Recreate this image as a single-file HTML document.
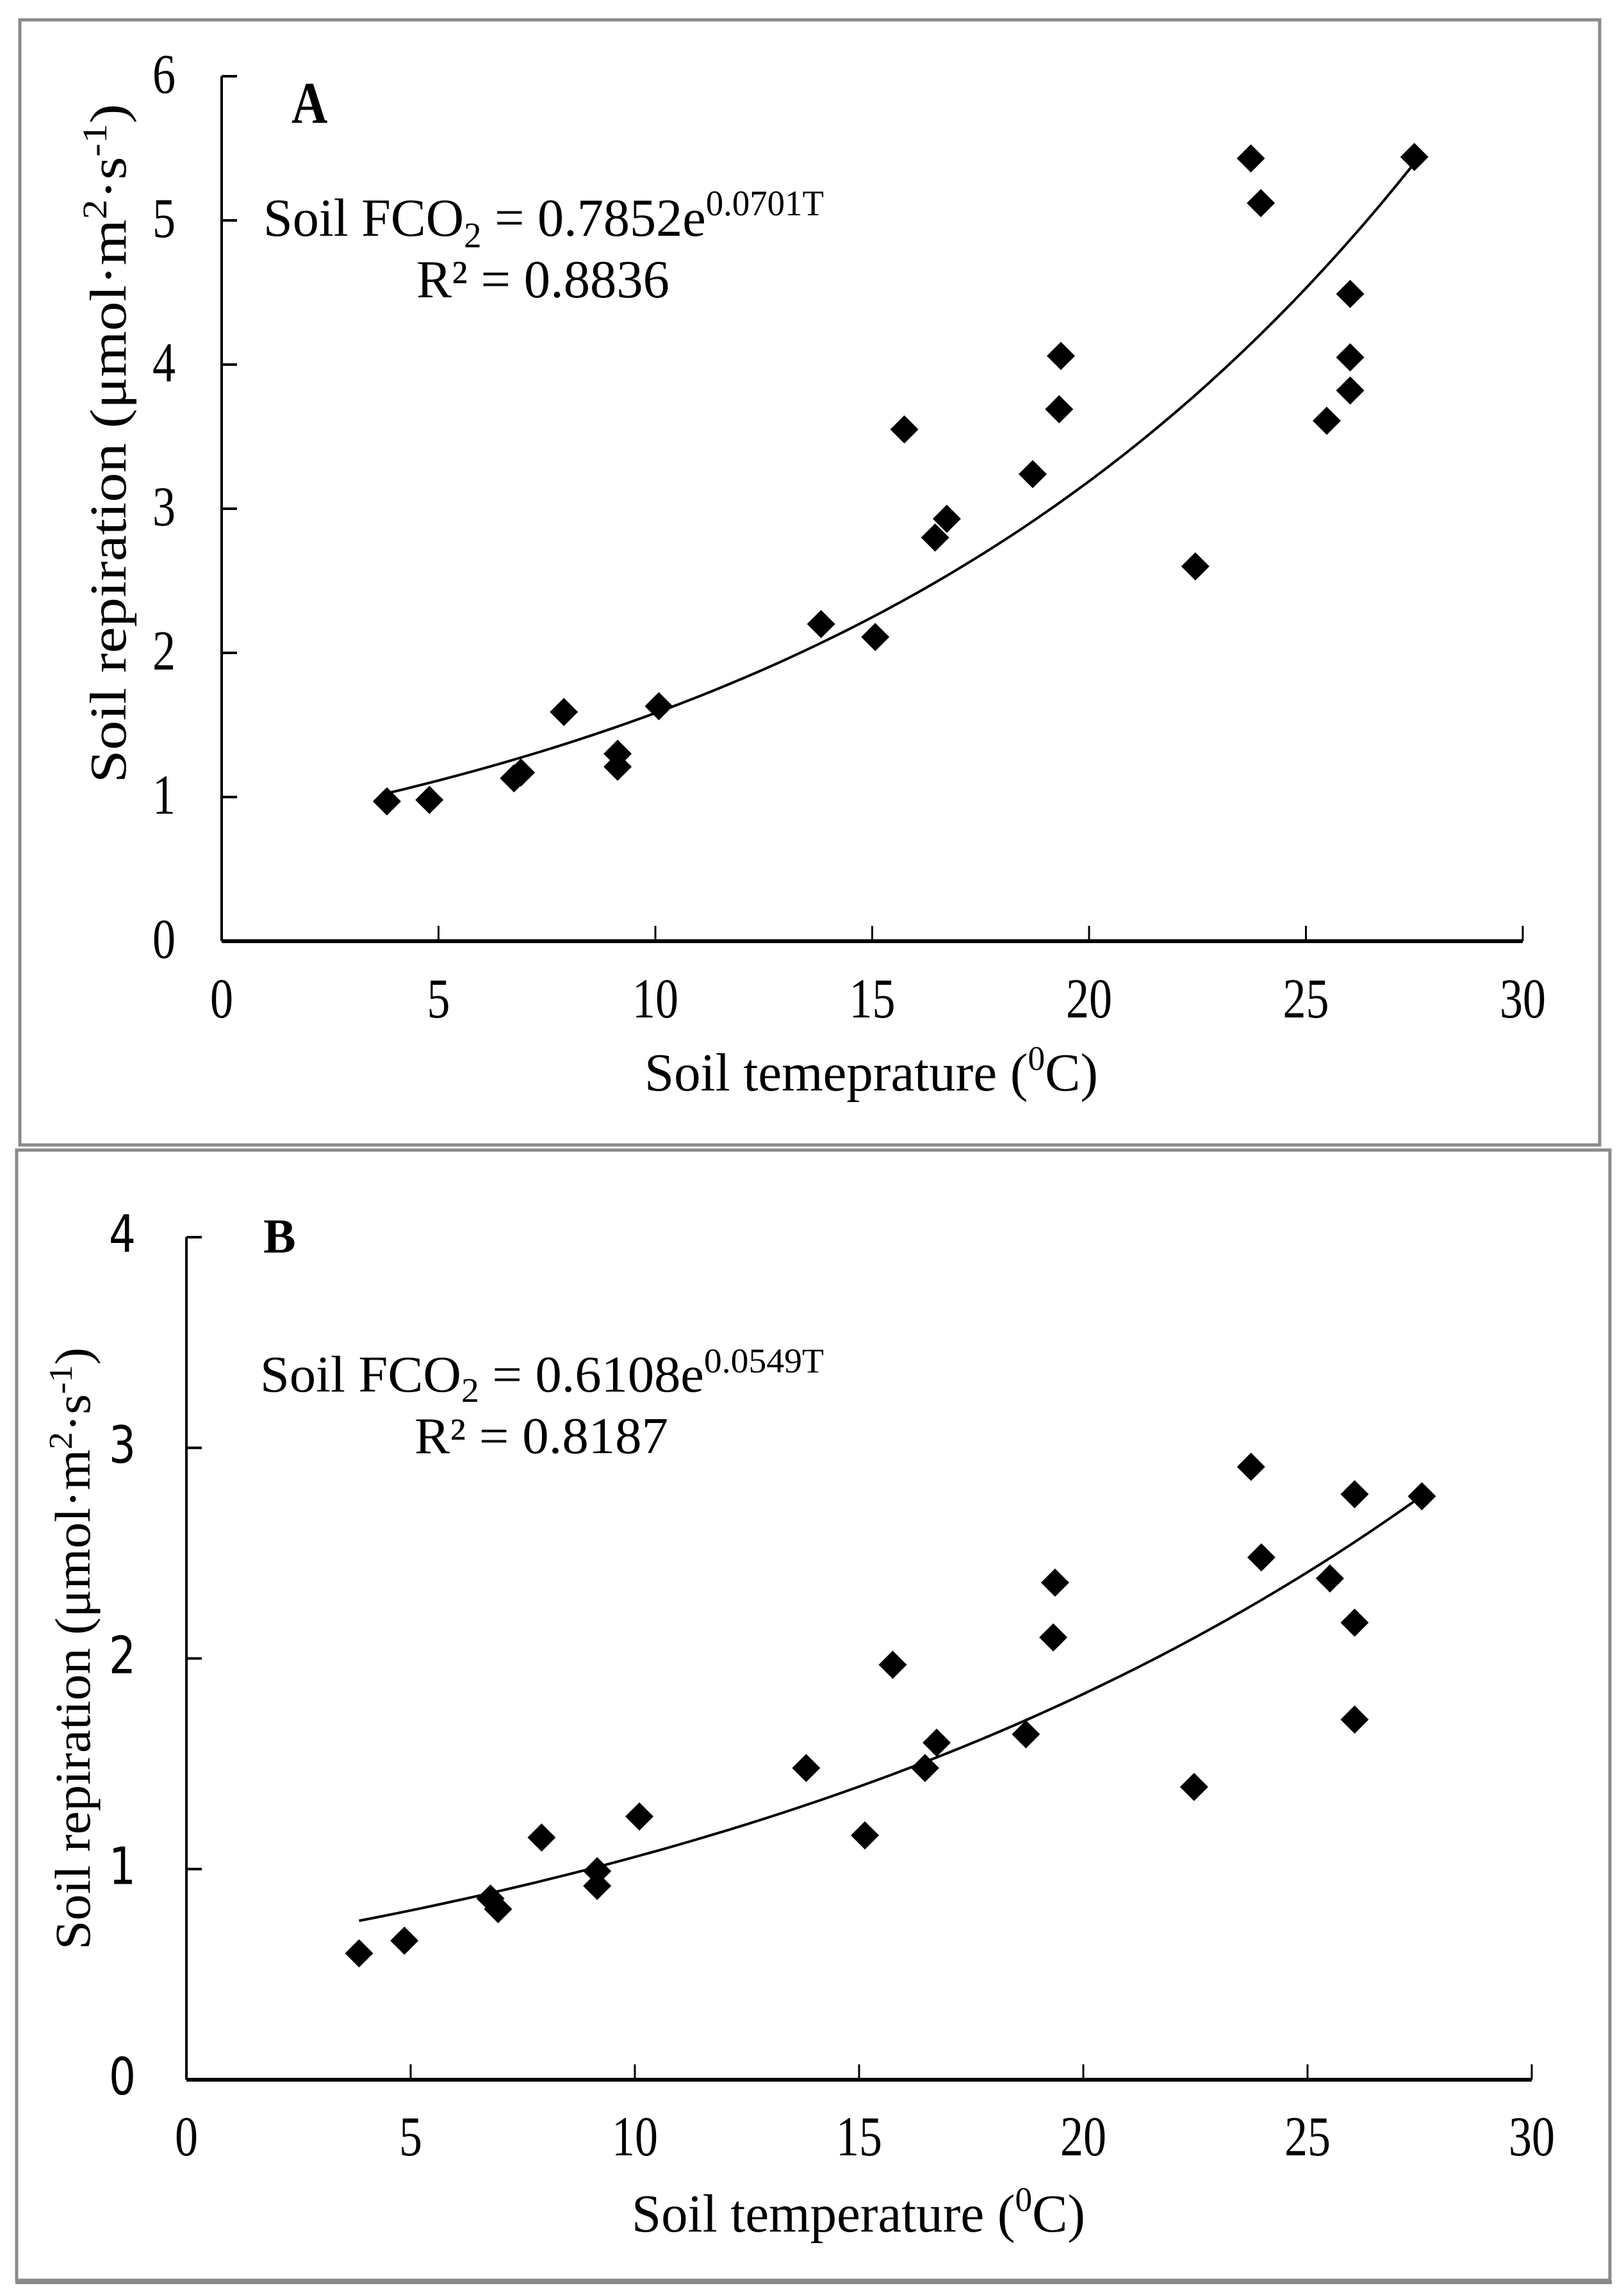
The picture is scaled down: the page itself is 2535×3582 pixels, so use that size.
<!DOCTYPE html>
<html><head><meta charset="utf-8"><style>
html,body{margin:0;padding:0;background:#fff;}
svg{display:block;}
text{font-family:"Liberation Serif",serif;fill:#000;}
.sans{font-family:"DejaVu Sans","Liberation Sans",sans-serif;}
</style></head><body>
<svg id="chart" width="2535" height="3582" viewBox="0 0 2535 3582" xmlns="http://www.w3.org/2000/svg">
<rect x="0" y="0" width="2535" height="3582" fill="#fff"/>
<rect x="31" y="31" width="2466" height="1756" fill="none" stroke="#8a8a8a" stroke-width="5"/>
<rect x="26" y="1795" width="2487" height="1764" fill="none" stroke="#8a8a8a" stroke-width="5"/>
<line x1="24" y1="3562" x2="2516" y2="3562" stroke="#8a8a8a" stroke-width="6"/>
<g id="pa"></g>
<g id="pb"></g>
</svg>
<script>
const xTicks = [0,5,10,15,20,25,30];
const yTicksA = [0,1,2,3,4,5,6];
const yTicksB = [0,1,2,3,4];
const tempA = [3.81,4.79,6.74,6.9,7.89,9.13,9.13,10.08,13.82,15.07,15.74,16.45,16.72,18.7,19.35,19.31,22.45,23.73,23.96,25.48,26.02,26.02,26.02,27.5];
const respA = [0.97,0.98,1.13,1.17,1.59,1.30,1.21,1.63,2.20,2.11,3.55,2.80,2.93,3.24,4.06,3.69,2.60,5.43,5.12,3.61,4.49,4.05,3.82,5.44];
const tempB = [3.85,4.86,6.78,6.95,7.92,9.16,9.16,10.1,13.82,15.13,15.75,16.47,16.73,18.72,19.37,19.33,22.47,23.74,23.97,25.5,26.05,26.05,26.05,27.55];
const respB = [0.60,0.66,0.86,0.81,1.15,0.99,0.92,1.25,1.48,1.16,1.97,1.48,1.60,1.64,2.36,2.10,1.39,2.91,2.48,2.38,2.78,2.17,1.71,2.77];
const fitA = [0.7852,0.0701];
const fitB = [0.6108,0.0549];
const NS='http://www.w3.org/2000/svg';
function mk(parent,tag,attrs){const e=document.createElementNS(NS,tag);for(const k in attrs)e.setAttribute(k,attrs[k]);parent.appendChild(e);return e;}

function panel(g,cfg){
  const sx=v=>cfg.x0+(v-0)/30*(cfg.x1-cfg.x0);
  const sy=v=>cfg.y0-(v/cfg.ymax)*(cfg.y0-cfg.y1);
  const ya=mk(g,'line',{x1:cfg.x0,y1:cfg.y1,x2:cfg.x0,y2:cfg.y0,stroke:'#000','stroke-width':4});
  
  
  const xa=mk(g,'line',{x1:cfg.x0,y1:cfg.y0,x2:cfg.x1,y2:cfg.y0,stroke:'#000','stroke-width':6});
  
  
  cfg.yTicks.forEach(v=>{
    const y=sy(v);
    if(v>0){const t=mk(g,'line',{x1:cfg.x0,y1:y,x2:cfg.x0+24,y2:y,stroke:'#000','stroke-width':4});
      
      }
    const lab=mk(g,'text',{x:0,y:0,'text-anchor':'end','font-size':cfg.yFont,transform:`translate(${cfg.yLabX},${y+cfg.yLabDy}) scale(1,${cfg.sy})`});
    if(cfg.sans)lab.setAttribute('class','sans');
    lab.textContent=v;
    
    
  });
  xTicks.forEach(v=>{
    const x=sx(v);
    if(v>0){const t=mk(g,'line',{x1:x,y1:cfg.y0,x2:x,y2:cfg.y0-24,stroke:'#000','stroke-width':3});
      
      }
    const lab=mk(g,'text',{x:0,y:0,'text-anchor':'middle','font-size':cfg.xFont,transform:`translate(${x},${cfg.xLabY}) scale(1,${cfg.sy})`});
    lab.textContent=v;
    
    
  });
  const tmin=Math.min(...cfg.tx), tmax=Math.max(...cfg.tx);
  let d='';
  for(let i=0;i<=60;i++){const t=tmin+(tmax-tmin)*i/60;const r=cfg.fit[0]*Math.exp(cfg.fit[1]*t);d+=(i?'L':'M')+sx(t).toFixed(1)+','+sy(r).toFixed(1);}
  const c=mk(g,'path',{d:d,fill:'none',stroke:'#000','stroke-width':4});
  
  
  cfg.tx.forEach((t,i)=>{
    const x=sx(t), y=sy(cfg.ry[i]), r=22;
    const p=mk(g,'polygon',{points:`${x},${y-r} ${x+r},${y} ${x},${y+r} ${x-r},${y}`,fill:'#000'});
    
    
  });
}

const ga=document.getElementById('pa'), gb=document.getElementById('pb');
panel(ga,{x0:346,x1:2377,y0:1469,y1:119,ymax:6,yTicks:yTicksA,tx:tempA,ry:respA,fit:fitA,yFont:72,xFont:72,sy:1.22,yLabX:274,yLabDy:26,xLabY:1588,sans:false});
panel(gb,{x0:291,x1:2391,y0:3246,y1:1931,ymax:4,yTicks:yTicksB,tx:tempB,ry:respB,fit:fitB,yFont:66,xFont:72,sy:1.22,yLabX:212,yLabDy:23,xLabY:3364,sans:true});
</script>
<svg style="position:absolute;left:0;top:0" width="2535" height="3582">
<text x="455" y="192" font-size="78" font-weight="bold" transform="translate(0,-35) scale(1,1.18)">A</text>
<text x="411" y="368" font-size="84" textLength="875" lengthAdjust="spacingAndGlyphs">Soil FCO<tspan font-size="56" dy="18">2</tspan><tspan dy="-18"> = 0.7852e</tspan><tspan font-size="56" dy="-32">0.0701T</tspan></text>
<text x="650" y="464" font-size="84" textLength="395" lengthAdjust="spacingAndGlyphs">R² = 0.8836</text>
<text transform="translate(196,1222) rotate(-90)" font-size="80" textLength="1060" lengthAdjust="spacingAndGlyphs">Soil repiration (μmol·m<tspan font-size="54" dy="-30">2</tspan><tspan dy="30">·s</tspan><tspan font-size="54" dy="-30">-1</tspan><tspan dy="30">)</tspan></text>
<text x="1006" y="1702" font-size="84" textLength="708" lengthAdjust="spacingAndGlyphs">Soil temeprature (<tspan font-size="54" dy="-32">0</tspan><tspan dy="32">C)</tspan></text>
<text x="411" y="1955" font-size="76" font-weight="bold">B</text>
<text x="406" y="2172" font-size="80" textLength="880" lengthAdjust="spacingAndGlyphs">Soil FCO<tspan font-size="54" dy="16">2</tspan><tspan dy="-16"> = 0.6108e</tspan><tspan font-size="54" dy="-30">0.0549T</tspan></text>
<text x="647" y="2268" font-size="80" textLength="396" lengthAdjust="spacingAndGlyphs">R² = 0.8187</text>
<text transform="translate(140,3043) rotate(-90)" font-size="78" textLength="940" lengthAdjust="spacingAndGlyphs">Soil repiration (μmol·m<tspan font-size="52" dy="-28">2</tspan><tspan dy="28">·s</tspan><tspan font-size="52" dy="-28">-1</tspan><tspan dy="28">)</tspan></text>
<text x="986" y="3483" font-size="84" textLength="708" lengthAdjust="spacingAndGlyphs">Soil temperature (<tspan font-size="54" dy="-32">0</tspan><tspan dy="32">C)</tspan></text>
</svg>
</body></html>
